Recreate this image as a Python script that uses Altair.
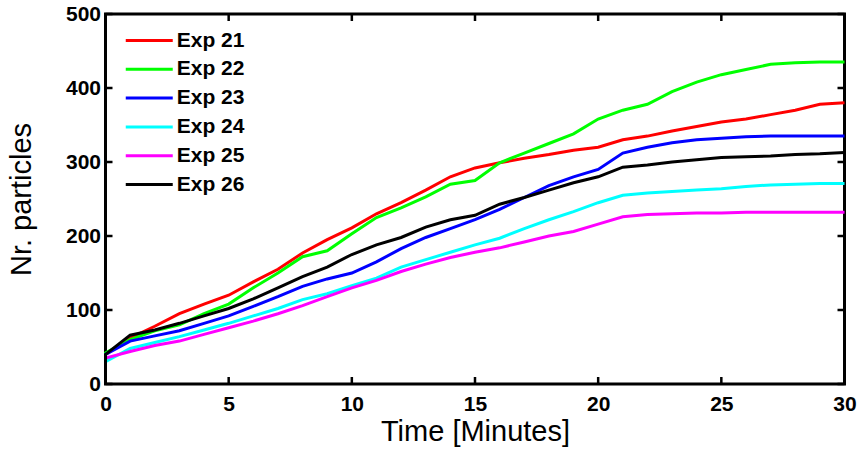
import altair as alt
import pandas as pd

minutes = list(range(0, 31))

exp21 = [40, 62, 78, 95, 108, 120, 138, 155, 177, 195, 211, 230, 245, 262, 280, 292,
         299, 305, 310, 316, 320, 330, 335, 342, 348, 354, 358, 364, 370, 378, 380]
exp22 = [42, 60, 72, 80, 95, 108, 130, 150, 172, 180, 203, 225, 238, 253, 270, 275,
         299, 312, 325, 338, 358, 370, 378, 395, 408, 418, 425, 432, 434, 435, 435]
exp23 = [40, 58, 65, 72, 82, 92, 105, 118, 132, 142, 150, 165, 183, 198, 210, 222,
         236, 252, 268, 280, 290, 312, 320, 326, 330, 332, 334, 335, 335, 335, 335]
exp24 = [30, 48, 56, 64, 73, 82, 92, 102, 114, 122, 133, 143, 158, 168, 178, 188,
         197, 210, 222, 233, 245, 255, 258, 260, 262, 264, 267, 269, 270, 271, 271]
exp25 = [35, 44, 52, 58, 67, 76, 85, 95, 106, 118, 130, 140, 152, 162, 171, 178,
         184, 192, 200, 206, 216, 226, 229, 230, 231, 231, 232, 232, 232, 232, 232]
exp26 = [40, 66, 73, 82, 92, 102, 115, 130, 145, 158, 175, 188, 198, 212, 222, 228,
         243, 252, 262, 272, 280, 293, 296, 300, 303, 306, 307, 308, 310, 311, 313]

names = ["Exp 21", "Exp 22", "Exp 23", "Exp 24", "Exp 25", "Exp 26"]
colors = ["#ff0000", "#00ff00", "#0000ff", "#00ffff", "#ff00ff", "#000000"]
series = [exp21, exp22, exp23, exp24, exp25, exp26]

x_ticks = [0, 5, 10, 15, 20, 25, 30]
y_ticks = [0, 100, 200, 300, 400, 500]

W, H = 739, 370
XMAX, YMAX = 30.0, 500.0
TICK_PX = 7

rows = []
for name, vals in zip(names, series):
    order = 0
    rows.append({"exp": name, "t": 0.0, "n": 0, "o": order})
    for t, v in zip(minutes, vals):
        order += 1
        rows.append({"exp": name, "t": float(t), "n": v, "o": order})
df = pd.DataFrame(rows)

# inward tick segments, length converted from pixels to data units
ty = TICK_PX * YMAX / H
tx = TICK_PX * XMAX / W
xtick_rows = []
for v in x_ticks:
    xtick_rows.append({"a": float(v), "b": 0.0, "b2": ty})
    xtick_rows.append({"a": float(v), "b": YMAX, "b2": YMAX - ty})
ytick_rows = []
for v in y_ticks:
    ytick_rows.append({"a": float(v), "b": 0.0, "b2": tx})
    ytick_rows.append({"a": float(v), "b": XMAX, "b2": XMAX - tx})
xt = pd.DataFrame(xtick_rows)
yt = pd.DataFrame(ytick_rows)

FONT = "Liberation Sans"
xscale = alt.Scale(domain=[0, XMAX], nice=False, zero=False)
yscale = alt.Scale(domain=[0, YMAX], nice=False)

xaxis = alt.Axis(values=x_ticks, ticks=False, domain=False, grid=False,
                 labelFontSize=21, labelFontWeight="bold", labelFont=FONT,
                 labelColor="black", labelPadding=9, labelFlush=False,
                 labelOverlap=False, title="Time [Minutes]", titleFont=FONT,
                 titleFontSize=29, titleFontWeight="normal", titleColor="black",
                 titlePadding=3)
yaxis = alt.Axis(values=y_ticks, ticks=False, domain=False, grid=False,
                 labelFontSize=21, labelFontWeight="bold", labelFont=FONT,
                 labelColor="black", labelPadding=5, labelFlush=False,
                 labelOverlap=False, title="Nr. particles", titleFont=FONT,
                 titleFontSize=29, titleFontWeight="normal", titleColor="black",
                 titlePadding=29)

lines = alt.Chart(df).mark_line(strokeWidth=3).encode(
    x=alt.X("t:Q", scale=xscale, axis=xaxis),
    y=alt.Y("n:Q", scale=yscale, axis=yaxis),
    color=alt.Color("exp:N", scale=alt.Scale(domain=names, range=colors),
                    legend=alt.Legend(title=None, orient="none", legendX=30.25, legendY=13,
                                      symbolType="M-2,0H2", symbolSize=552,
                                      symbolStrokeWidth=3, labelFontSize=21,
                                      labelFontWeight="bold", labelFont=FONT,
                                      labelColor="black", labelOffset=14,
                                      rowPadding=4.8, padding=0)),
    order=alt.Order("o:Q"),
)

xt_layer = alt.Chart(xt).mark_rule(color="black", strokeWidth=2.5).encode(
    x=alt.X("a:Q", scale=xscale, axis=xaxis),
    y=alt.Y("b:Q", scale=yscale, axis=yaxis), y2="b2:Q")
yt_layer = alt.Chart(yt).mark_rule(color="black", strokeWidth=2.5).encode(
    y=alt.Y("a:Q", scale=yscale, axis=yaxis),
    x=alt.X("b:Q", scale=xscale, axis=xaxis), x2="b2:Q")

chart = alt.layer(lines, xt_layer, yt_layer).properties(
    width=W, height=H,
    autosize=alt.AutoSizeParams(type="none"),
    padding={"left": 105.5, "top": 14, "right": 14.5, "bottom": 69},
    background="white",
).configure_view(stroke="black", strokeWidth=3)

chart.save("out.html", embed_options={"renderer": "svg", "actions": False})
